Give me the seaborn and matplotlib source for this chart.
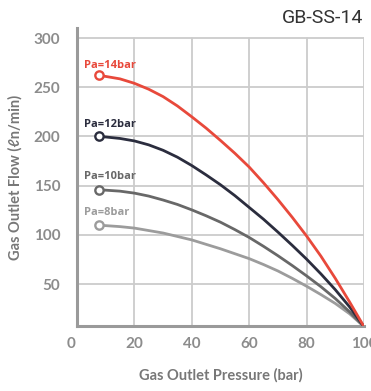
import numpy as np
import pandas as pd
import matplotlib
matplotlib.use("Agg")
import matplotlib.pyplot as plt
import matplotlib.transforms as mtransforms
import seaborn as sns

# Data (outlet pressure in bar, flow in ln/min)
pressure = [7.5, 10, 15, 20, 25, 30, 35, 40, 45, 50, 55, 60, 65, 70, 75, 80, 85, 90, 95, 100]
flow_14 = [262, 261, 258.5, 254, 248, 240.5, 231, 220, 208.5, 196, 183, 169, 153, 136, 118, 99, 78.5, 56, 32, 7]
flow_12 = [200, 199.5, 198, 195.5, 191.5, 186, 179, 170.5, 161, 151, 140, 128, 116, 103, 89.5, 75.5, 60.5, 44.5, 27, 7]
flow_10 = [146, 145.5, 144.5, 142.5, 139.5, 135.5, 131, 125.5, 119.5, 113, 105.5, 97.5, 88.5, 79, 69, 58.5, 47.5, 35.5, 22, 7]
flow_8 = [110, 109.5, 108.5, 107, 104.5, 102, 98.5, 95, 90.5, 86, 81, 76, 70, 63.5, 56, 48, 39.5, 30.5, 20, 7]

series = ["Pa=14bar", "Pa=12bar", "Pa=10bar", "Pa=8bar"]
label_y = [270, 210, 157, 120.5]
colors = ["#e8493b", "#2b2d3e", "#686868", "#9c9c9c"]
x_ticks = [0, 20, 40, 60, 80, 100]
y_ticks = [50, 100, 150, 200, 250, 300]

df = pd.DataFrame({
    "pressure": pressure * 4,
    "flow": flow_14 + flow_12 + flow_10 + flow_8,
    "curve": np.repeat(series, len(pressure)),
})

sns.set_theme(style="white")
plt.rcParams["font.family"] = ["Lato", "DejaVu Sans"]

fig = plt.figure(figsize=(3.71, 3.91), dpi=100)
ax = fig.add_axes([0.2075, 0.166, 0.7735, 0.762])

# grid (vertical lines stop at 300)
for xv in x_ticks[1:]:
    ax.plot([xv, xv], [7.5, 300], color="#cccccc", lw=1.3, zorder=0)
for yv in y_ticks:
    ax.axhline(yv, color="#cccccc", lw=1.3, zorder=0)

sns.lineplot(data=df, x="pressure", y="flow", hue="curve", hue_order=series[::-1],
             palette=colors[::-1], lw=2, legend=False, ax=ax, zorder=3)
for ln in ax.lines:
    ln.set_solid_joinstyle("round")

starts = df.groupby("curve", sort=False).first().reset_index()
for name, col, ly in zip(series, colors, label_y):
    row = starts[starts["curve"] == name].iloc[0]
    ax.plot(row["pressure"], row["flow"], "o", ms=6, mfc="white", mec=col, mew=1.7, zorder=4)
    ax.text(2.6, ly, name, color=col, fontsize=8, fontweight="bold",
            family=["Open Sans", "DejaVu Sans"], va="baseline", ha="left")

ax.set_xlim(0, 100)
ax.set_ylim(7.5, 310)
ax.set_xticks(x_ticks)
ax.set_yticks(y_ticks)
ax.tick_params(length=0, labelsize=11, labelcolor="#8c8c8c", pad=8)
ax.tick_params(axis="y", pad=12)
for lab in ax.get_xticklabels() + ax.get_yticklabels():
    lab.set_fontweight("bold")
first = ax.get_xticklabels()[0]
first.set_transform(first.get_transform() + mtransforms.ScaledTranslation(-0.06, 0, fig.dpi_scale_trans))

for s in ["top", "right"]:
    ax.spines[s].set_visible(False)
for s in ["left", "bottom"]:
    ax.spines[s].set_color("#9a9a9a")
    ax.spines[s].set_linewidth(2.2)

ax.set_xlabel("Gas Outlet Pressure (bar)", fontsize=10.5, fontweight="bold", color="#777777", labelpad=12)
ax.set_ylabel("Gas Outlet Flow (ℓn/min)", fontsize=10.5, fontweight="bold", color="#777777", labelpad=8)

fig.text(0.978, 0.953, "GB-SS-14", ha="right", va="center", fontsize=14,
         family=["Roboto", "DejaVu Sans"], color="#333333")

fig.savefig("out.png", dpi=100)
